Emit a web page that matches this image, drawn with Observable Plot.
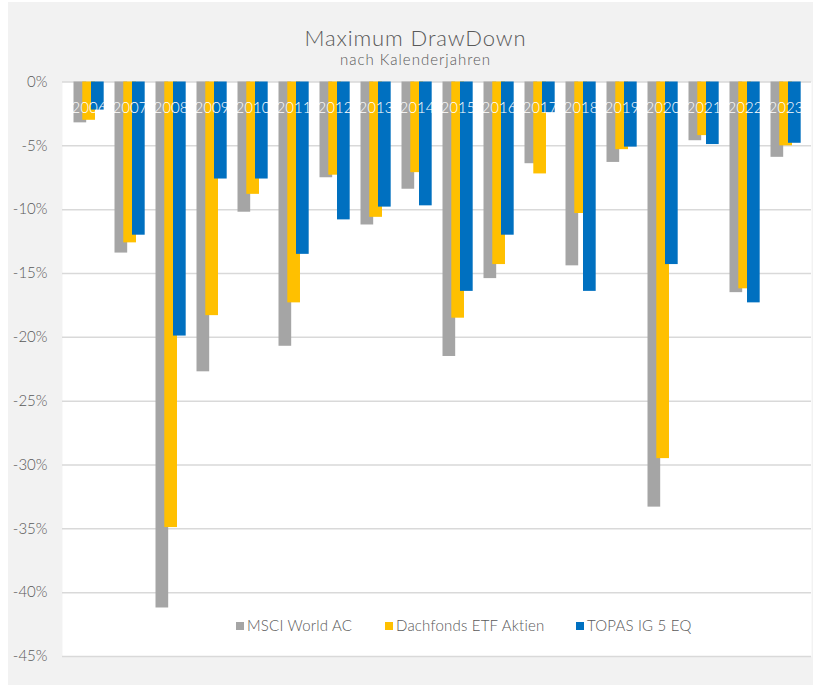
<!DOCTYPE html>
<html>
<head>
<meta charset="utf-8">
<script src="https://cdn.jsdelivr.net/npm/d3@7"></script>
<script src="https://cdn.jsdelivr.net/npm/@observablehq/plot@0.6"></script>
<style>
  html, body { margin: 0; padding: 0; background: #ffffff; }
  #chart {
    position: relative; width: 813px; height: 685px; overflow: hidden;
    background: #f2f2f2; box-shadow: inset 8px 2px 0 #ffffff;
    font-family: "Lato", "DejaVu Sans", sans-serif; color: #595959; font-weight: 300;
  }
  #title { position: absolute; left: 0; width: 831px; top: 24px; text-align: center; font-size: 22px; letter-spacing: 0.9px; }
  #subtitle { position: absolute; left: 0; width: 831px; top: 50px; text-align: center; font-size: 15px; letter-spacing: 1px; }
  #plot { position: absolute; left: 0; top: 70px; }
  .leg { position: absolute; top: 616px; font-size: 15px; white-space: nowrap; letter-spacing: 0.2px; }
  .leg i { display: inline-block; width: 8px; height: 8px; margin-right: 3px; vertical-align: 1px; }
</style>
</head>
<body>
<div id="chart">
  <div id="title">Maximum DrawDown</div>
  <div id="subtitle">nach Kalenderjahren</div>
  <div id="plot"></div>
  <div id="legend"></div>
</div>
<script>
const years = ["2006","2007","2008","2009","2010","2011","2012","2013","2014","2015","2016","2017","2018","2019","2020","2021","2022","2023"];
const msciWorldAC = [-3.2,-13.4,-41.2,-22.7,-10.2,-20.7,-7.5,-11.2,-8.4,-21.5,-15.4,-6.4,-14.4,-6.3,-33.3,-4.6,-16.5,-5.9];
const dachfondsETF = [-3.0,-12.6,-34.9,-18.3,-8.8,-17.3,-7.3,-10.6,-7.1,-18.5,-14.3,-7.2,-10.3,-5.3,-29.5,-4.2,-16.2,-5.0];
const topasIG5EQ = [-2.2,-12.0,-19.9,-7.6,-7.6,-13.5,-10.8,-9.8,-9.7,-16.4,-12.0,-2.4,-16.4,-5.1,-14.3,-4.9,-17.3,-4.8];
const seriesNames = ["MSCI World AC", "Dachfonds ETF Aktien", "TOPAS IG 5 EQ"];
const seriesColors = ["#a5a5a5", "#ffc000", "#0070c0"];
const yTicks = [0,-5,-10,-15,-20,-25,-30,-35,-40,-45];

const W = 813, H = 615, mL = 62, mR = 2, mT = 11.5, mB = 29;
const bw = (W - mL - mR) / years.length;
// bar offsets within each year band (clustered with overlap)
const barW = 13.3;
const offsets = [5.5, 14.3, 23.0];

const seriesValues = [msciWorldAC, dachfondsETF, topasIG5EQ];
const barMarks = seriesValues.map((vals, i) => Plot.barY(
  years.map((y, j) => ({year: y, value: vals[j]})),
  {x: "year", y1: 0, y2: "value", fill: seriesColors[i],
   insetLeft: offsets[i], insetRight: bw - offsets[i] - barW}
));

const chart = Plot.plot({
  width: W, height: H,
  marginLeft: mL, marginRight: mR, marginTop: mT, marginBottom: mB,
  style: {background: "transparent", fontFamily: "Lato, 'DejaVu Sans', sans-serif", color: "#595959", fontWeight: 300},
  x: {domain: years, padding: 0, axis: null},
  y: {domain: [-45, 0], ticks: yTicks},
  marks: [
    Plot.frame({fill: "#ffffff", stroke: null}),
    Plot.gridY(yTicks, {stroke: "#d9d9d9", strokeOpacity: 1, strokeWidth: 1.5}),
    ...barMarks,
    Plot.axisY(yTicks, {tickSize: 0, tickPadding: 15, fontSize: 15, tickFormat: d => `${d}%`, label: null}),
    Plot.text(years, {x: d => d, frameAnchor: "top", dy: 20, fill: "#ffffff", fontSize: 15})
  ]
});
document.getElementById("plot").appendChild(chart);

const legendX = [236, 385, 576];
const legend = document.getElementById("legend");
seriesNames.forEach((name, i) => {
  const d = document.createElement("div");
  d.className = "leg";
  d.style.left = legendX[i] + "px";
  d.innerHTML = `<i style="background:${seriesColors[i]}"></i>${name}`;
  legend.appendChild(d);
});
</script>
</body>
</html>
